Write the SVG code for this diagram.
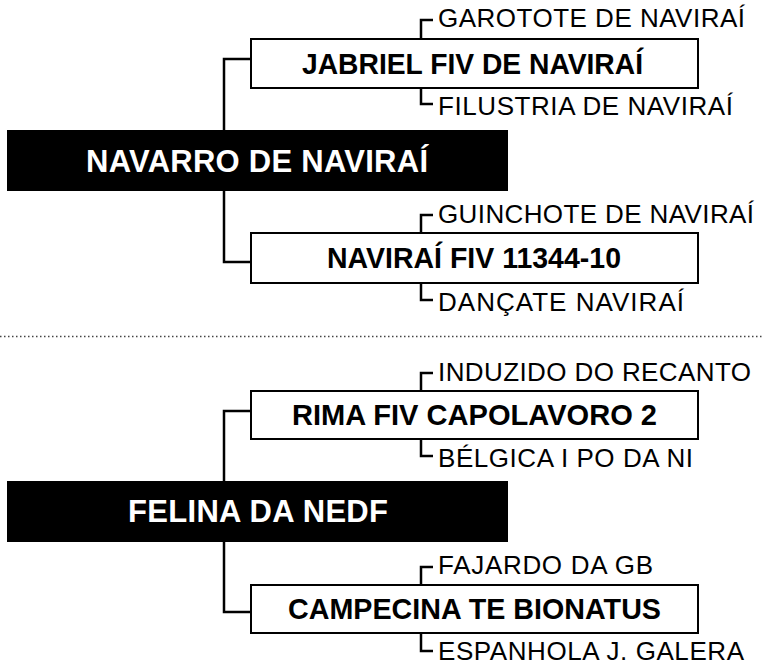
<svg xmlns="http://www.w3.org/2000/svg" width="764" height="665" viewBox="0 0 764 665">
<style>
.conn{fill:none;stroke:#000;stroke-width:2.5}
.box{fill:#fff;stroke:#000;stroke-width:2}
.root{fill:#000}
.lbl{font-family:"Liberation Sans",Arial,sans-serif;font-size:26px;fill:#000}
.bt{font-family:"Liberation Sans",Arial,sans-serif;font-size:30px;font-weight:bold;fill:#000}
.rt{font-family:"Liberation Sans",Arial,sans-serif;font-size:31px;font-weight:bold;fill:#fff}
.sep{stroke:#444;stroke-width:1.5;stroke-dasharray:1.5 2.5}
</style>
<rect width="764" height="665" fill="#fff"/>
<g id="connectors">
<path class="conn" d="M251,59 H224 V262 H251"/>
<path class="conn" d="M251,411 H224 V612 H251"/>
<path class="conn" d="M433,20 H421 V39 M421,88 V104 H433"/>
<path class="conn" d="M433,215 H421 V233 M421,283 V300 H433"/>
<path class="conn" d="M433,373 H421 V391 M421,439 V456 H433"/>
<path class="conn" d="M433,567 H421 V585 M421,633 V651 H433"/>
</g>
<line class="sep" x1="0" y1="336.5" x2="764" y2="336.5"/>
<g id="navarro">
<rect class="root" x="7" y="130" width="501" height="61"/>
<text class="rt" x="86" y="172" textLength="342" lengthAdjust="spacing">NAVARRO DE NAVIRAÍ</text>
</g>
<g id="jabriel">
<rect class="box" x="251" y="39" width="447" height="49"/>
<text class="bt" x="302" y="74" textLength="341" lengthAdjust="spacingAndGlyphs">JABRIEL FIV DE NAVIRAÍ</text>
</g>
<g id="garotote"><text class="lbl" x="438" y="27" textLength="307" lengthAdjust="spacing">GAROTOTE DE NAVIRAÍ</text></g>
<g id="filustria"><text class="lbl" x="438" y="115" textLength="295" lengthAdjust="spacing">FILUSTRIA DE NAVIRAÍ</text></g>
<g id="navirai">
<rect class="box" x="251" y="233" width="447" height="50"/>
<text class="bt" x="327" y="268" textLength="294" lengthAdjust="spacingAndGlyphs">NAVIRAÍ FIV 11344-10</text>
</g>
<g id="guinchote"><text class="lbl" x="438" y="223" textLength="316" lengthAdjust="spacing">GUINCHOTE DE NAVIRAÍ</text></g>
<g id="dancate"><text class="lbl" x="438" y="311" textLength="246" lengthAdjust="spacing">DANÇATE NAVIRAÍ</text></g>
<g id="felina">
<rect class="root" x="7" y="481" width="501" height="61"/>
<text class="rt" x="128" y="522" textLength="260" lengthAdjust="spacing">FELINA DA NEDF</text>
</g>
<g id="rima">
<rect class="box" x="251" y="391" width="447" height="48"/>
<text class="bt" x="292" y="425" textLength="365" lengthAdjust="spacingAndGlyphs">RIMA FIV CAPOLAVORO 2</text>
</g>
<g id="induzido"><text class="lbl" x="438" y="381" textLength="313" lengthAdjust="spacing">INDUZIDO DO RECANTO</text></g>
<g id="belgica"><text class="lbl" x="438" y="467" textLength="255" lengthAdjust="spacing">BÉLGICA I PO DA NI</text></g>
<g id="campecina">
<rect class="box" x="251" y="585" width="447" height="48"/>
<text class="bt" x="288" y="619" textLength="373" lengthAdjust="spacingAndGlyphs">CAMPECINA TE BIONATUS</text>
</g>
<g id="fajardo"><text class="lbl" x="438" y="574" textLength="215" lengthAdjust="spacing">FAJARDO DA GB</text></g>
<g id="espanhola"><text class="lbl" x="438" y="660" textLength="306" lengthAdjust="spacing">ESPANHOLA J. GALERA</text></g>
</svg>
